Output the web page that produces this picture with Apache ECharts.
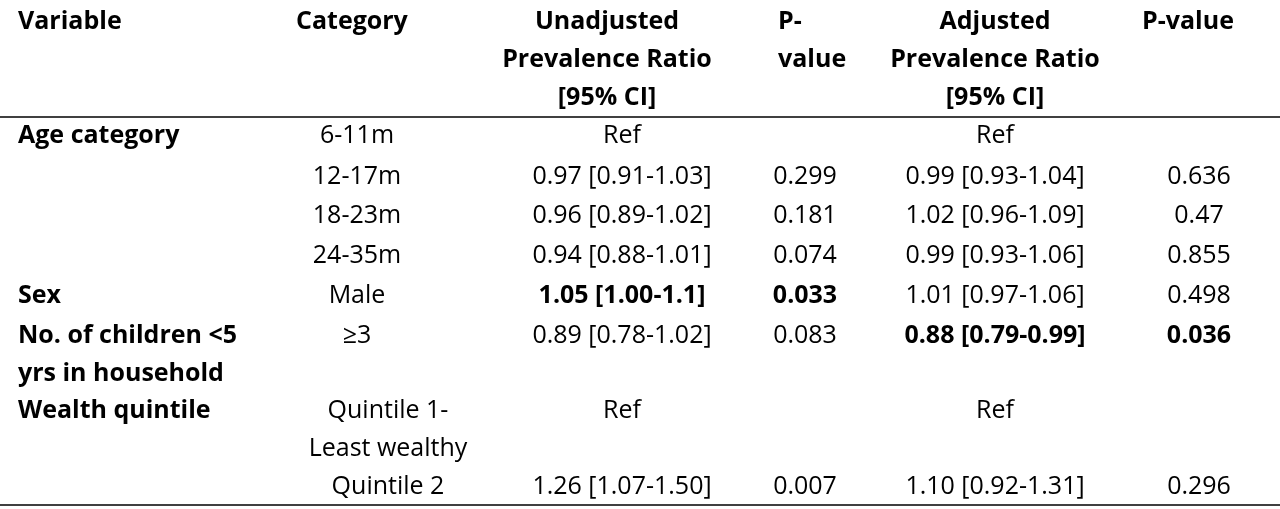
<!DOCTYPE html>
<html><head><meta charset="utf-8">
<script src="https://cdn.jsdelivr.net/npm/echarts@6/dist/echarts.min.js"></script>
<style>html,body{margin:0;background:#fff}#c{width:1280px;height:509px}</style>
</head><body><div id="c"></div>
<script>
const headers = [["Variable"],["Category"],["Unadjusted","Prevalence Ratio","[95% CI]"],["P-","value"],["Adjusted","Prevalence Ratio","[95% CI]"],["P-value"]];
const variables = ["Age category","","","","Sex","No. of children <5\nyrs in household","Wealth quintile",""];
const categories = ["6-11m","12-17m","18-23m","24-35m","Male","≥3","Quintile 1-\nLeast wealthy","Quintile 2"];
const unadjPR = ["Ref","0.97 [0.91-1.03]","0.96 [0.89-1.02]","0.94 [0.88-1.01]","1.05 [1.00-1.1]","0.89 [0.78-1.02]","Ref","1.26 [1.07-1.50]"];
const unadjP = ["","0.299","0.181","0.074","0.033","0.083","","0.007"];
const adjPR = ["Ref","0.99 [0.93-1.04]","1.02 [0.96-1.09]","0.99 [0.93-1.06]","1.01 [0.97-1.06]","0.88 [0.79-0.99]","Ref","1.10 [0.92-1.31]"];
const adjP = ["","0.636","0.47","0.855","0.498","0.036","","0.296"];
const boldCells = [[4,2],[4,3],[5,4],[5,5]];
const rowY = [136,177,216,256,296,336,411,487];

const F = '"Open Sans", sans-serif', FS = 25, LH = 38;
const els = [];
function t(x,y,text,align,bold){
  els.push({type:'text',x:x,y:y,style:{text:text,font:(bold?'bold ':'')+FS+'px '+F,fill:'#000',textAlign:align,textVerticalAlign:'middle',lineHeight:LH}});
}
const hx=[[18,'left'],[296,'left'],[607,'center'],[778,'left'],[995,'center'],[1188,'center']];
headers.forEach((h,i)=>h.forEach((line,j)=>{t(hx[i][0],22+j*38,line,hx[i][1],true);}));
const cols=[variables,categories,unadjPR,unadjP,adjPR,adjP];
const cx=[[18,'left'],[357,'center'],[622,'center'],[805,'center'],[995,'center'],[1199,'center']];
rowY.forEach((y,r)=>{
  cols.forEach((col,c)=>{
    let txt=col[r]; if(!txt) return;
    const n=txt.split('\n').length;
    const yy=y+(n-1)*LH/2;
    let x=cx[c][0];
    if(c===1 && txt.length>8) x=388;
    const bold = c===0 || boldCells.some(b=>b[0]===r&&b[1]===c);
    t(x,yy,txt,cx[c][1],bold);
  });
});
[[117],[505]].forEach(v=>els.push({type:'line',shape:{x1:0,y1:v[0],x2:1280,y2:v[0]},style:{stroke:'#000',lineWidth:1.5}}));
const ch=echarts.init(document.getElementById('c'));
ch.setOption({graphic:{elements:els}});
</script></body></html>
